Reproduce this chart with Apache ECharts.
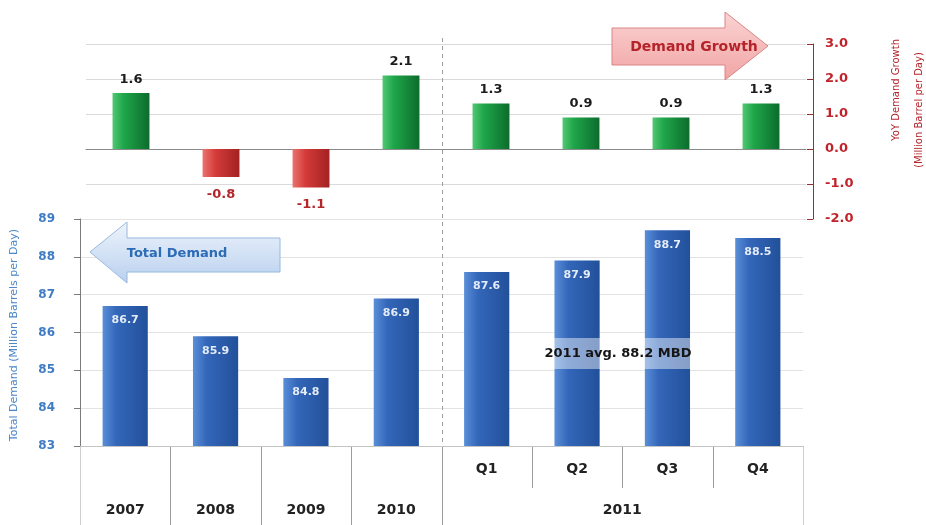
<!DOCTYPE html>
<html>
<head>
<meta charset="utf-8">
<title>Oil Demand</title>
<script src="https://cdn.jsdelivr.net/npm/echarts@6/dist/echarts.min.js"></script>
<style>
  html, body { margin: 0; padding: 0; background: #ffffff; }
  #chart { width: 926px; height: 525px; }
</style>
</head>
<body>
<div id="chart"></div>
<script>
// Periods shown along both panels
const periods = ['2007', '2008', '2009', '2010', 'Q1', 'Q2', 'Q3', 'Q4'];
// Year row of the table beneath the chart: label and the span of periods it covers
const yearLabels = ['2007', '2008', '2009', '2010', '2011'];
const yearSpans = [[0, 1], [1, 2], [2, 3], [3, 4], [4, 8]];
// Year-on-year demand growth (million barrels per day)
const growth = [1.6, -0.8, -1.1, 2.1, 1.3, 0.9, 0.9, 1.3];
// Total demand (million barrels per day)
const demand = [86.7, 85.9, 84.8, 86.9, 87.6, 87.9, 88.7, 88.5];
// Axis ranges
const growthAxis = { min: -2, max: 3, step: 1 };
const demandAxis = { min: 83, max: 89, step: 1 };
const avgNote = '2011 avg. 88.2 MBD';

const NUM_FONT = '"DejaVu Sans", Verdana, sans-serif';
const chart = echarts.init(document.getElementById('chart'));

const LG = echarts.graphic.LinearGradient;
const greenFill = new LG(0, 0, 1, 0, [
  { offset: 0, color: '#52c873' }, { offset: 0.3, color: '#1fa64a' }, { offset: 1, color: '#0c6c2c' }
]);
const redFill = new LG(0, 0, 1, 0, [
  { offset: 0, color: '#ea7470' }, { offset: 0.35, color: '#d43b39' }, { offset: 1, color: '#a22222' }
]);
const blueFill = new LG(0, 0, 1, 0, [
  { offset: 0, color: '#5a8fd8' }, { offset: 0.3, color: '#3467ba' }, { offset: 1, color: '#22509a' }
]);

const growthData = growth.map(v => ({
  value: v,
  itemStyle: { color: v >= 0 ? greenFill : redFill },
  label: {
    position: v >= 0 ? 'top' : 'bottom',
    distance: v >= 0 ? 7 : 11,
    color: v >= 0 ? '#1c1c1c' : '#b3262b'
  }
}));

// Year labels sit at the middle of the span they cover
const yearAt = {};
yearLabels.forEach((y, i) => { yearAt[((yearSpans[i][0] + yearSpans[i][1]) / 2).toFixed(1)] = y; });

chart.setOption({
  animation: false,
  grid: [
    { left: 86, right: 120, top: 44, bottom: 306 },
    { left: 80, right: 123, top: 219, bottom: 79 }
  ],
  xAxis: [
    {
      gridIndex: 0, type: 'category', data: periods,
      axisLine: { onZero: true, lineStyle: { color: '#8a8a8a' } },
      axisTick: { length: 4, lineStyle: { color: '#8a8a8a' } },
      axisLabel: { show: false }, splitLine: { show: false }
    },
    {
      gridIndex: 1, type: 'category', data: periods, position: 'bottom',
      axisLine: { lineStyle: { color: '#c4c4c4' } },
      axisTick: { show: false },
      axisLabel: {
        margin: 16, fontFamily: NUM_FONT, fontWeight: 'bold', fontSize: 14, color: '#222',
        interval: 0, formatter: (v, i) => (i >= 4 ? v : '')
      }
    },
    {
      gridIndex: 1, type: 'value', min: 0, max: periods.length, interval: 0.5, position: 'bottom',
      axisLine: { show: false }, axisTick: { show: false }, splitLine: { show: false },
      axisLabel: {
        margin: 57, fontFamily: NUM_FONT, fontWeight: 'bold', fontSize: 14, color: '#222',
        showMinLabel: true, showMaxLabel: true, hideOverlap: false,
        formatter: v => yearAt[Number(v).toFixed(1)] || ''
      }
    }
  ],
  yAxis: [
    {
      gridIndex: 0, type: 'value', position: 'right', offset: 7,
      min: growthAxis.min, max: growthAxis.max, interval: growthAxis.step,
      axisLine: { show: true, lineStyle: { color: '#8e3232' } },
      axisTick: { show: true, inside: true, length: 6, lineStyle: { color: '#8e3232' } },
      axisLabel: {
        margin: 12, fontFamily: NUM_FONT, fontWeight: 'bold', fontSize: 13, color: '#c0232b',
        formatter: v => v.toFixed(1)
      },
      splitLine: { lineStyle: { color: '#dadada' } }
    },
    {
      gridIndex: 1, type: 'value', position: 'left',
      min: demandAxis.min, max: demandAxis.max, interval: demandAxis.step,
      axisLine: { show: true, lineStyle: { color: '#7a7a7a' } },
      axisTick: { show: true, length: 6, lineStyle: { color: '#7a7a7a' } },
      axisLabel: {
        margin: 25, fontFamily: NUM_FONT, fontWeight: 'bold', fontSize: 12, color: '#3f7cc4'
      },
      splitLine: { lineStyle: { color: '#e3e3e3' } }
    }
  ],
  series: [
    {
      name: 'YoY Demand Growth', type: 'bar', xAxisIndex: 0, yAxisIndex: 0,
      barWidth: '41%', data: growthData,
      label: {
        show: true, fontFamily: NUM_FONT, fontWeight: 'bold', fontSize: 13,
        formatter: p => p.value.toFixed(1)
      }
    },
    {
      name: 'Total Demand', type: 'bar', xAxisIndex: 1, yAxisIndex: 1,
      barWidth: '50%', data: demand,
      itemStyle: { color: blueFill },
      label: {
        show: true, position: 'insideTop', distance: 9,
        fontFamily: NUM_FONT, fontWeight: 'bold', fontSize: 11, color: '#e4ecf8',
        formatter: p => p.value.toFixed(1)
      }
    }
  ]
});

// Table grid, period separator and callouts
const px = v => chart.convertToPixel({ xAxisIndex: 2 }, v);
const baseY = chart.convertToPixel({ yAxisIndex: 1 }, demandAxis.min);
const rowY = baseY + 42;
const tableBottom = 525;
const graphics = [];

for (let v = 0; v <= periods.length; v++) {
  const x = Math.round(px(v)) + 0.5;
  const edge = v === 0 || v === periods.length;
  const yearEdge = yearSpans.some(s => s[0] === v || s[1] === v);
  graphics.push({
    type: 'line', silent: true,
    shape: { x1: x, y1: baseY, x2: x, y2: yearEdge ? tableBottom : rowY },
    style: { stroke: edge ? '#cfcfcf' : '#9c9c9c', lineWidth: 1 }
  });
}

// dashed separator between yearly and quarterly figures
const sepX = Math.round(px(yearSpans[4][0])) + 0.5;
graphics.push({
  type: 'line', silent: true, z: 1,
  shape: { x1: sepX, y1: 38, x2: sepX, y2: baseY },
  style: { stroke: '#a0a0a0', lineWidth: 1, lineDash: [4, 4] }
});

// "Demand Growth" arrow pointing to the right-hand axis
graphics.push({
  type: 'polygon', z: 10,
  shape: { points: [[612, 28], [725, 28], [725, 12], [768, 46], [725, 80], [725, 65], [612, 65]] },
  style: {
    fill: new LG(0, 0, 0, 1, [{ offset: 0, color: '#fbd3d3' }, { offset: 1, color: '#f1a4a4' }]),
    stroke: '#d98585', lineWidth: 1
  }
});
graphics.push({
  type: 'text', z: 11, x: 694, y: 47,
  style: {
    text: 'Demand Growth', fill: '#b5232a', font: 'bold 14px ' + NUM_FONT,
    align: 'center', verticalAlign: 'middle'
  }
});

// "Total Demand" arrow pointing to the left-hand axis
graphics.push({
  type: 'polygon', z: 10,
  shape: { points: [[90, 252], [127, 222], [127, 238], [280, 238], [280, 272], [127, 272], [127, 283]] },
  style: {
    fill: new LG(0, 0, 0, 1, [{ offset: 0, color: '#eef4fc' }, { offset: 1, color: '#b9d0ee' }]),
    stroke: '#98b8df', lineWidth: 1
  }
});
graphics.push({
  type: 'text', z: 11, x: 177, y: 254,
  style: {
    text: 'Total Demand', fill: '#2c6bb5', font: 'bold 13px ' + NUM_FONT,
    align: 'center', verticalAlign: 'middle'
  }
});

// 2011 average note on a translucent band
graphics.push({
  type: 'rect', z: 10, silent: true,
  shape: { x: 520, y: 338, width: 194, height: 31 },
  style: { fill: 'rgba(255,255,255,0.45)' }
});
graphics.push({
  type: 'text', z: 11, x: 618, y: 354,
  style: {
    text: avgNote, fill: '#151515', font: 'bold 13px ' + NUM_FONT,
    align: 'center', verticalAlign: 'middle'
  }
});

// axis titles
graphics.push({
  type: 'text', x: 14, y: 335, rotation: Math.PI / 2,
  style: {
    text: 'Total Demand (Million Barrels per Day)', fill: '#4a86c8',
    font: '11px ' + NUM_FONT, align: 'center', verticalAlign: 'middle'
  }
});
graphics.push({
  type: 'text', x: 896, y: 90, rotation: Math.PI / 2,
  style: {
    text: 'YoY Demand Growth', fill: '#b3262b',
    font: '10px ' + NUM_FONT, align: 'center', verticalAlign: 'middle'
  }
});
graphics.push({
  type: 'text', x: 919, y: 110, rotation: Math.PI / 2,
  style: {
    text: '(Million Barrel per Day)', fill: '#b3262b',
    font: '10px ' + NUM_FONT, align: 'center', verticalAlign: 'middle'
  }
});

chart.setOption({ graphic: graphics });
</script>
</body>
</html>
